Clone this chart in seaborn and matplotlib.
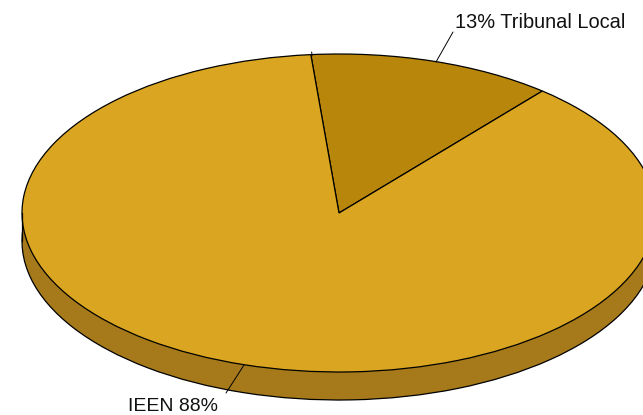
import matplotlib
matplotlib.use("Agg")
import matplotlib.pyplot as plt
import seaborn as sns

## data
labels = ["13% Tribunal Local", "IEEN 88%"]
values = [12.5, 87.5]
top_colors = ["darkgoldenrod", "goldenrod"]
side_color = "#a67a1a"

sns.set_theme(style="white")
plt.rcParams["font.family"] = ["Liberation Sans", "DejaVu Sans"]

## one pie unit is 317 px across and 159 px up, the chart is squashed to look 3D
rx, ry = 317, 159
cx, cy = 339, 213
depth = 28 / ry
start = 50.1
W, H = 643, 415

fig = plt.figure(figsize=(W / 100, H / 100), dpi=100)
ax = fig.add_axes([0, 0, 1, 1])

## side wall: the same pie again, moved down, joined up with a band
ax.pie(values, colors=[side_color] * 2, startangle=start, center=(0, -depth),
       wedgeprops={"edgecolor": "black", "linewidth": 0.9})
ax.fill_between([-1, 1], [-depth, -depth], [0, 0], color=side_color, lw=0)
ax.plot([-1, -1], [0, -depth], color="black", lw=0.9)
ax.plot([1, 1], [0, -depth], color="black", lw=0.9)

## top of the pie
ax.pie(values, colors=top_colors, startangle=start,
       wedgeprops={"edgecolor": "black", "linewidth": 0.9})

ax.set_aspect("auto")
ax.set_xlim(-cx / rx, (W - cx) / rx)
ax.set_ylim((cy - H) / ry, cy / ry)
ax.axis("off")


def px(x, y):
    return (x - cx) / rx, (cy - y) / ry


## leader lines, the slice edge pokes out a little at the top
for a, b in [((436, 62), (453, 32)), ((244, 365), (226, 393)), ((312, 56), (311.7, 52))]:
    xs, ys = zip(px(*a), px(*b))
    ax.plot(xs, ys, color="black", lw=0.7)

ax.text(*px(454.5, 22.5), labels[0], fontsize=14.4, color="#111111", ha="left", va="center")
ax.text(*px(128, 406), labels[1], fontsize=14, color="#111111", ha="left", va="center")

fig.savefig("out.png", dpi=100, facecolor="white")
